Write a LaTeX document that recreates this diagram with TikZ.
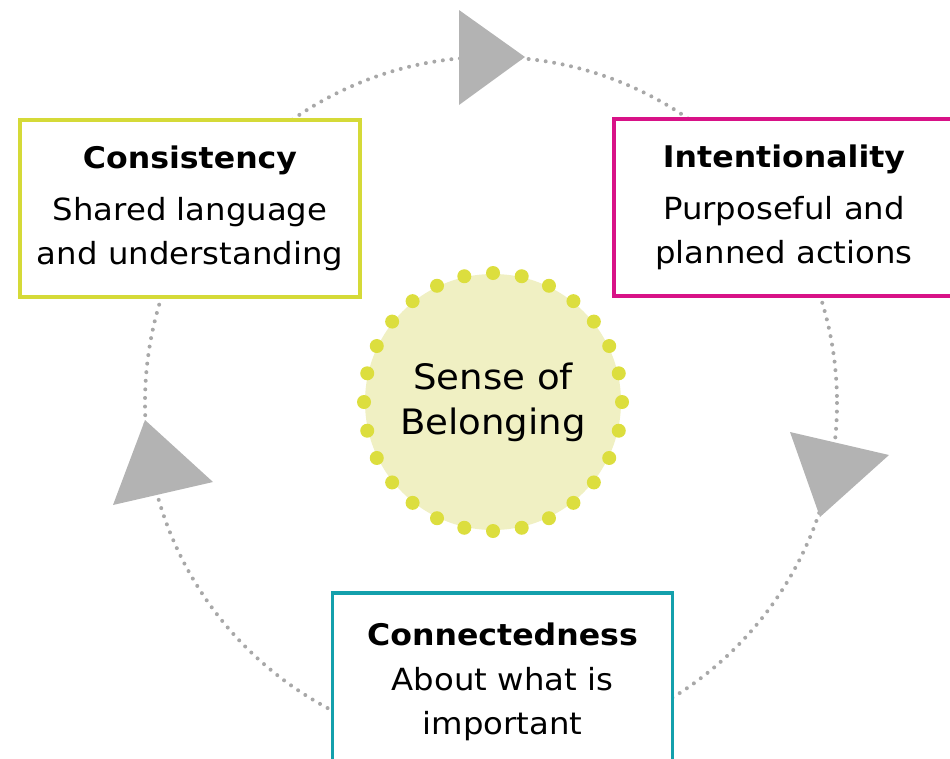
\documentclass[tikz,border=0pt]{standalone}
\usepackage{fontspec}
\setmainfont[FakeStretch=1.06]{DejaVu Sans}
\usetikzlibrary{positioning}

\definecolor{consyellow}{RGB}{213,218,56}
\definecolor{intpink}{RGB}{216,18,135}
\definecolor{connteal}{RGB}{20,160,172}
\definecolor{hubfill}{RGB}{240,240,195}
\definecolor{hubdot}{RGB}{220,222,62}
\definecolor{ringgrey}{RGB}{168,168,168}
\definecolor{tipgrey}{RGB}{179,179,179}

% Bold first line of each box
\newcommand{\boxhead}[1]{{\fontsize{29.8pt}{44pt}\selectfont\bfseries #1}}

\begin{document}
\begin{tikzpicture}[%
    x=1pt, y=-1pt,              % Work in page units, y running downwards
    line join=miter,
    ]
% -------------------------------------------------
% Box, hub and ring styles
\tikzset{
  base/.style={draw, fill=white, line width=3.3pt, align=center, inner sep=0pt,
    minimum width=340pt, minimum height=177pt,
    font=\fontsize{30.5pt}{44pt}\selectfont},
  cons/.style={base, draw=consyellow},
  intent/.style={base, draw=intpink},
  conn/.style={base, draw=connteal},
  hub/.style={circle, fill=hubfill, minimum size=256pt, inner sep=0pt,
    align=center, font=\fontsize{35pt}{45pt}\selectfont},
  ring/.style={draw=ringgrey, line width=4pt, line cap=round,
    dash pattern=on 0pt off 8.6pt},
  tip/.style={fill=tipgrey}
}
\useasboundingbox (0,0) rectangle (950,758);
% -------------------------------------------------
% The cycle runs round the hub
\coordinate (mid) at (491,403);
\draw[ring] (mid) circle (346);

% Hub with its ring of dots
\node[hub] (hub) at (493,402) {Sense of\\Belonging};
\foreach \a in {0,...,27}
  \fill[hubdot] (hub.center) ++(\a*360/28:129) circle (7);

% -------------------------------------------------
% The three boxes on the cycle
\node[cons] (consistency) at (190,208.5)
  {\boxhead{Consistency}\\[8pt]Shared language\\and understanding};
\node[intent] (intentionality) at (784,207.5)
  {\boxhead{Intentionality}\\[8pt]Purposeful and\\planned actions};
\node[conn] (connectedness) at (502.5,681.5)
  {\boxhead{Connectedness}\\[1pt]About what is\\important};

% -------------------------------------------------
% Direction marks on the ring
\fill[tip] (459,10) -- (459,105) -- (525,57) -- cycle;
\fill[tip] (790,432) -- (889,455) -- (820,517) -- cycle;
\fill[tip] (145,420) -- (213,482) -- (113,505) -- cycle;
\end{tikzpicture}
\end{document}
